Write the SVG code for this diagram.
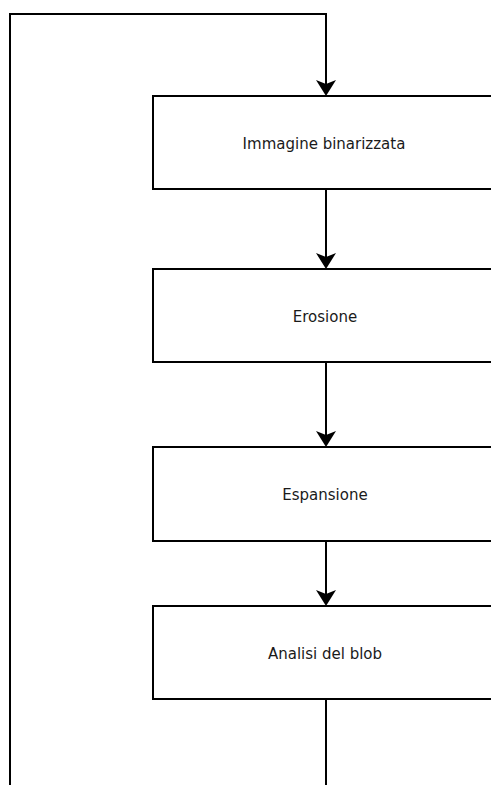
<svg xmlns="http://www.w3.org/2000/svg" width="491" height="785" viewBox="0 0 491 785">
  <style>
    .box { fill: #ffffff; stroke: #000000; stroke-width: 2; }
    .label { font-family: "DejaVu Sans", Verdana, sans-serif; font-size: 15px; fill: #1a1a1a; text-anchor: middle; }
    .wire { fill: none; stroke: #000000; stroke-width: 2; }
    .head { fill: #000000; stroke: none; }
  </style>
  <defs>
    <path id="arrowhead" class="head" d="M0,0 L-10,-16 L0,-12 L10,-16 Z"/>
  </defs>
  <rect width="491" height="785" fill="#ffffff"/>

  <g id="connectors">
    <!-- feedback loop from the bottom back to the first step -->
    <path class="wire" d="M10,785 L10,14 L326,14 L326,88"/>
    <use href="#arrowhead" x="326" y="96"/>
    <path class="wire" d="M326,189 L326,261"/>
    <use href="#arrowhead" x="326" y="269"/>
    <path class="wire" d="M326,362 L326,439"/>
    <use href="#arrowhead" x="326" y="447"/>
    <path class="wire" d="M326,541 L326,598"/>
    <use href="#arrowhead" x="326" y="606"/>
    <path class="wire" d="M326,699 L326,785"/>
  </g>

  <g id="immagine-binarizzata">
    <rect class="box" x="153" y="96" width="346" height="93"/>
    <text class="label" x="324" y="149">Immagine binarizzata</text>
  </g>
  <g id="erosione">
    <rect class="box" x="153" y="269" width="346" height="93"/>
    <text class="label" x="325" y="322">Erosione</text>
  </g>
  <g id="espansione">
    <rect class="box" x="153" y="447" width="346" height="94"/>
    <text class="label" x="325" y="500">Espansione</text>
  </g>
  <g id="analisi-blob">
    <rect class="box" x="153" y="606" width="346" height="93"/>
    <text class="label" x="325" y="659">Analisi del blob</text>
  </g>
</svg>
